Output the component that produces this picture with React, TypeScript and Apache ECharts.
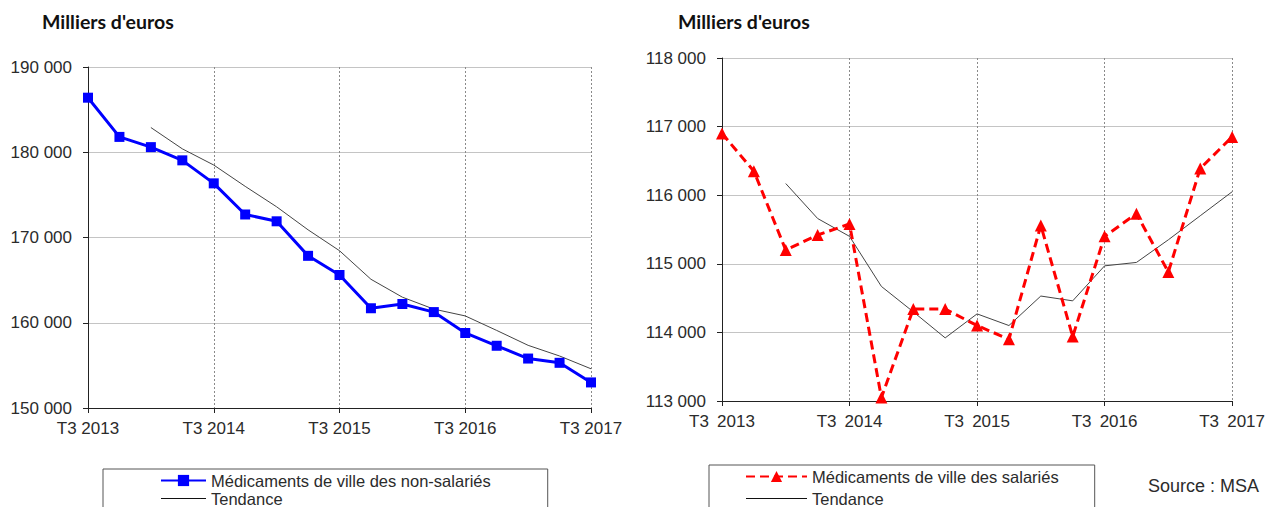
import React, { useEffect, useRef } from "react";
import * as echarts from "echarts";

const quarters = [
  "T3 2013", "T4 2013", "T1 2014", "T2 2014", "T3 2014", "T4 2014", "T1 2015", "T2 2015",
  "T3 2015", "T4 2015", "T1 2016", "T2 2016", "T3 2016", "T4 2016", "T1 2017", "T2 2017", "T3 2017",
];

const nonSalaries = [
  186400, 181800, 180600, 179050, 176350, 172700, 171900, 167850,
  165600, 161700, 162200, 161250, 158800, 157300, 155800, 155300, 153000,
];
const nonSalariesTrend: (number | string)[] = [
  "-", "-", 182900, 180400, 178500, 176000, 173600, 170900,
  168450, 165100, 163000, 161600, 160800, 159100, 157350, 156100, 154600,
];

const salaries = [
  116900, 116350, 115200, 115420, 115580, 113050, 114340, 114340,
  114100, 113900, 115560, 113940, 115400, 115730, 114880, 116390, 116850,
];
const salariesTrend: (number | string)[] = [
  "-", "-", 116170, 115660, 115400, 114670, 114300, 113920,
  114270, 114100, 114530, 114460, 114970, 115020, 115350, 115700, 116050,
];

const leftName = "Médicaments de ville des non-salariés";
const rightName = "Médicaments de ville des salariés";
const trendName = "Tendance";

const FONT = "'Liberation Sans', Arial, sans-serif";
const TXT = "#2b2b2b";

const fmt = (v: number) => String(v).replace(/\B(?=(\d{3})+(?!\d))/g, " ");

function makeX(gridIndex: number, doubleSpace: boolean) {
  return {
    type: "category",
    gridIndex,
    data: quarters,
    boundaryGap: false,
    axisLine: { show: true, lineStyle: { color: "#222", width: 1 } },
    axisTick: { show: true, interval: 3, length: 5, lineStyle: { color: "#222" } },
    axisLabel: {
      interval: 3,
      margin: 12,
      color: TXT,
      fontSize: 17,
      fontFamily: FONT,
      formatter: (v: string) => (doubleSpace ? v.replace(" ", "\u2009 ") : v),
    },
    splitLine: { show: true, interval: 3, lineStyle: { color: "#8a8a8a", type: [2, 2], width: 1 } },
  };
}

function makeY(gridIndex: number, min: number, max: number, interval: number) {
  return {
    type: "value",
    gridIndex,
    min,
    max,
    interval,
    axisLine: { show: true, lineStyle: { color: "#222", width: 1 } },
    axisTick: { show: true, length: 5, lineStyle: { color: "#222" } },
    axisLabel: { margin: 16, color: TXT, fontSize: 17, fontFamily: FONT, formatter: fmt },
    splitLine: { show: true, lineStyle: { color: "#c4c4c4", width: 1 } },
  };
}

function legendBox(
  left: number,
  top: number,
  padT: number,
  padL: number,
  padR: number,
  iconW: number,
  gap: number,
  mainName: string
) {
  return {
    orient: "vertical",
    left,
    top,
    height: 80,
    padding: [padT, padR, 20, padL],
    itemWidth: iconW,
    itemHeight: 14,
    itemGap: gap,
    borderColor: "#555",
    borderWidth: 1,
    selectedMode: false,
    data: [
      mainName,
      {
        name: trendName,
        itemStyle: { color: "rgba(0,0,0,0)", borderColor: "rgba(0,0,0,0)", borderWidth: 0 },
        lineStyle: { color: "#111", width: 1 },
      },
    ],
    textStyle: { fontSize: 16.5, color: TXT, fontFamily: FONT },
  };
}

const titleStyle = {
  text: "Milliers d'euros",
  fontSize: 19.5,
  fontWeight: "bold",
  fontFamily: "Lato, 'Open Sans', sans-serif",
  fill: "#111",
};

export default function App() {
  const ref = useRef<HTMLDivElement>(null);

  useEffect(() => {
    if (!ref.current) return;
    const chart = echarts.init(ref.current, undefined, { renderer: "svg" });
    chart.setOption({
      animation: false,
      backgroundColor: "#ffffff",
      grid: [
        { left: 88, top: 67, width: 503, height: 341 },
        { left: 722, top: 58, width: 511, height: 343 },
      ],
      xAxis: [makeX(0, false), makeX(1, true)],
      yAxis: [makeY(0, 150000, 190000, 10000), makeY(1, 113000, 118000, 1000)],
      legend: [
        legendBox(103, 469, 3, 57, 57, 45, 1, leftName),
        legendBox(709, 465, 3, 36, 36, 61, 5, rightName),
      ],
      graphic: [
        { type: "text", left: 42, top: 11, style: { ...titleStyle } },
        { type: "text", left: 678, top: 11, style: { ...titleStyle } },
        {
          type: "text",
          left: 1148,
          top: 477,
          style: { text: "Source : MSA", fontSize: 18, fontFamily: FONT, fill: TXT },
        },
      ],
      series: [
        {
          name: leftName,
          type: "line",
          xAxisIndex: 0,
          yAxisIndex: 0,
          data: nonSalaries,
          symbol: "rect",
          symbolSize: 10,
          itemStyle: { color: "#0000ff" },
          lineStyle: { color: "#0000ff", width: 3 },
          z: 3,
        },
        {
          name: trendName,
          type: "line",
          xAxisIndex: 0,
          yAxisIndex: 0,
          data: nonSalariesTrend,
          symbol: "none",
          itemStyle: { color: "#444" },
          lineStyle: { color: "#444", width: 1 },
          z: 2,
        },
        {
          name: rightName,
          type: "line",
          xAxisIndex: 1,
          yAxisIndex: 1,
          data: salaries,
          symbol: "triangle",
          symbolSize: 12,
          itemStyle: { color: "#ff0000" },
          lineStyle: { color: "#ff0000", width: 3, type: [9, 5] },
          z: 3,
        },
        {
          name: trendName,
          type: "line",
          xAxisIndex: 1,
          yAxisIndex: 1,
          data: salariesTrend,
          symbol: "none",
          itemStyle: { color: "#444" },
          lineStyle: { color: "#444", width: 1 },
          z: 2,
        },
      ],
    });
    return () => chart.dispose();
  }, []);

  return (
    <div
      ref={ref}
      style={{ position: "fixed", left: 0, top: 0, width: 1268, height: 507, background: "#fff" }}
    />
  );
}
